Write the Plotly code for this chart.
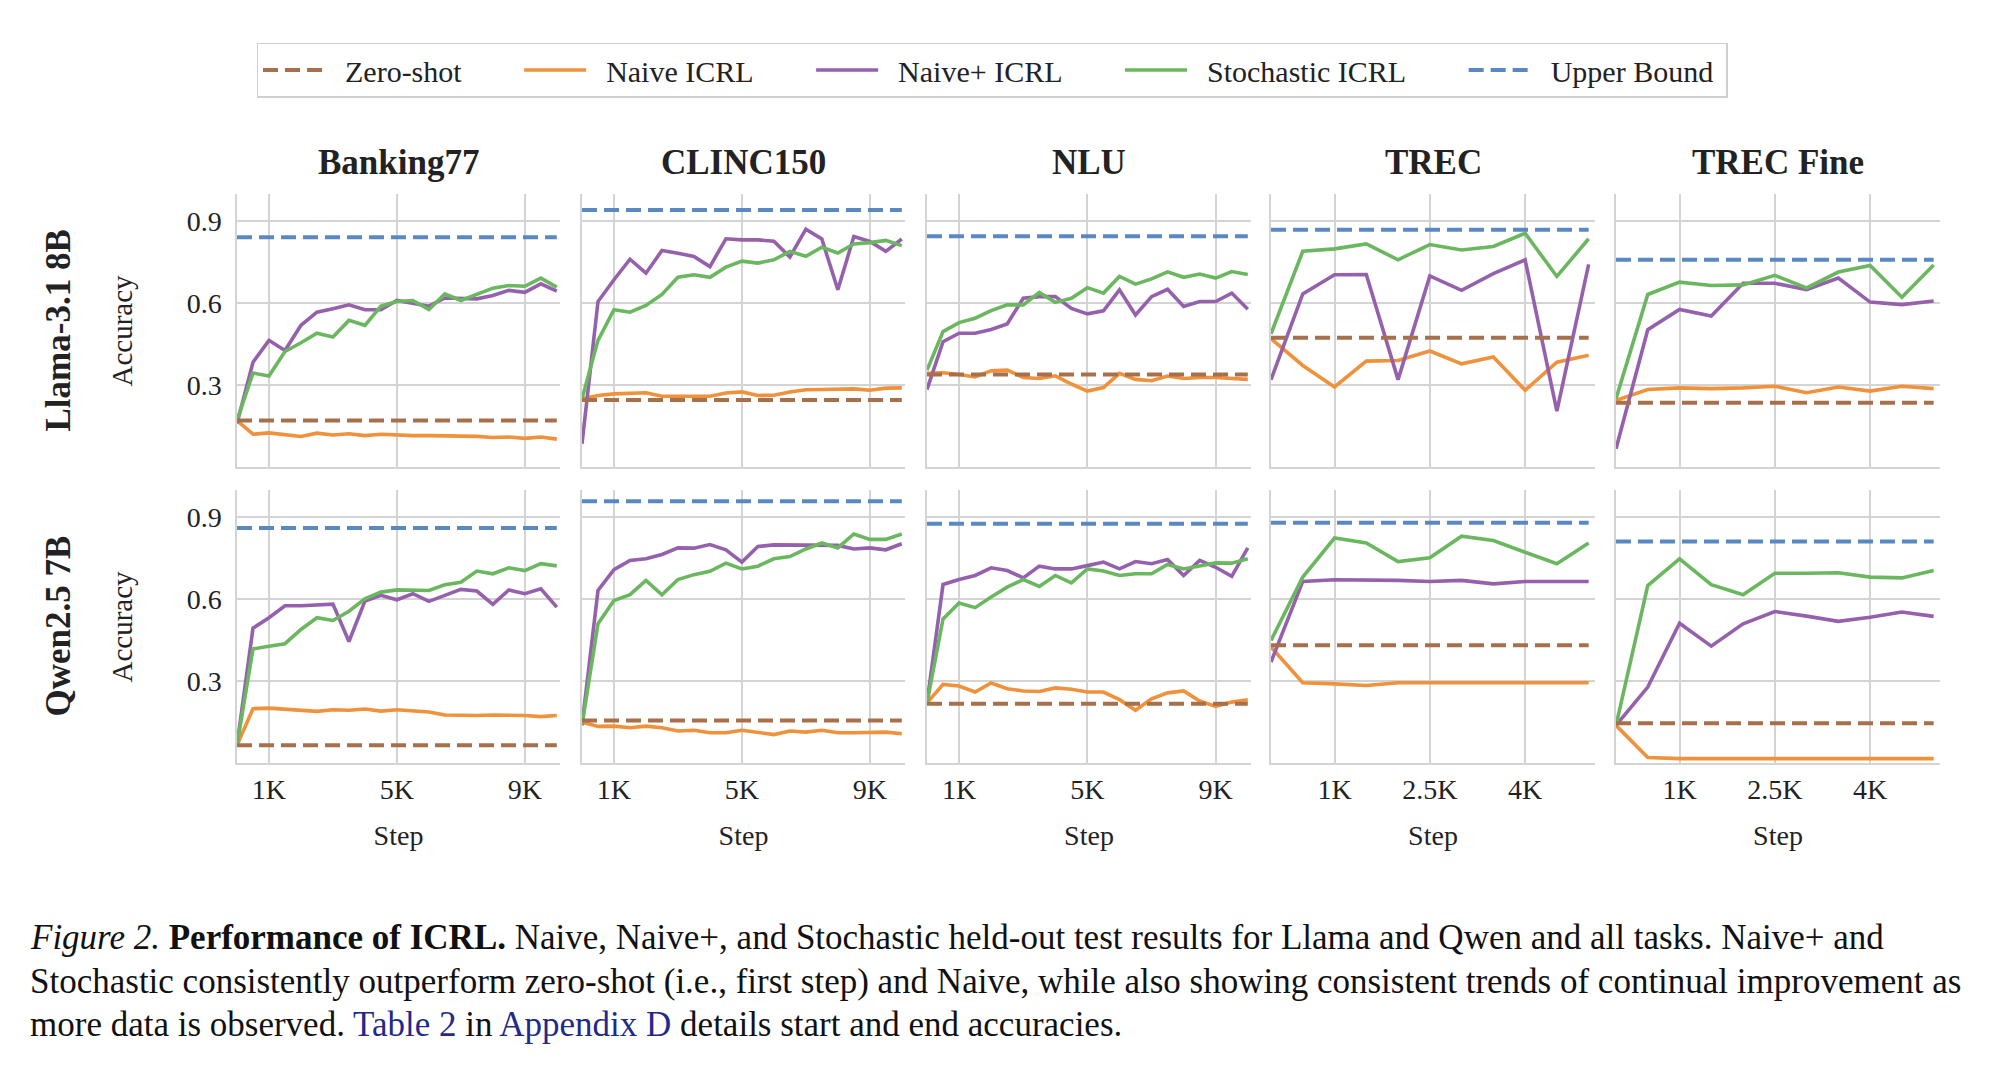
import plotly.graph_objects as go

# ---------------- data ----------------
datasets = ["Banking77", "CLINC150", "NLU", "TREC", "TREC Fine"]
models = ["Llama-3.1 8B", "Qwen2.5 7B"]
series_names = ["Zero-shot", "Naive ICRL", "Naive+ ICRL", "Stochastic ICRL", "Upper Bound"]

steps_long = [0, 500, 1000, 1500, 2000, 2500, 3000, 3500, 4000, 4500, 5000,
              5500, 6000, 6500, 7000, 7500, 8000, 8500, 9000, 9500, 10000]
steps_short = [0, 500, 1000, 1500, 2000, 2500, 3000, 3500, 4000, 4500, 5000]

ticks_long = [1000, 5000, 9000]
ticklabels_long = ["1K", "5K", "9K"]
ticks_short = [1000, 2500, 4000]
ticklabels_short = ["1K", "2.5K", "4K"]
yticks = [0.3, 0.6, 0.9]
yticklabels = ["0.3", "0.6", "0.9"]

# Llama-3.1 8B
llama_zero = [0.17, 0.245, 0.339, 0.473, 0.235]
llama_upper = [0.842, 0.941, 0.845, 0.869, 0.759]
llama_naive = [
    [0.17, 0.12, 0.125, 0.12, 0.112, 0.124, 0.117, 0.122, 0.115, 0.12, 0.117, 0.115, 0.115, 0.115, 0.114, 0.112, 0.108, 0.11, 0.105, 0.11, 0.102],
    [0.25, 0.262, 0.268, 0.271, 0.272, 0.259, 0.259, 0.256, 0.259, 0.271, 0.275, 0.262, 0.263, 0.275, 0.283, 0.284, 0.285, 0.286, 0.281, 0.289, 0.29],
    [0.343, 0.345, 0.339, 0.33, 0.352, 0.355, 0.328, 0.324, 0.334, 0.304, 0.278, 0.291, 0.343, 0.321, 0.316, 0.333, 0.324, 0.328, 0.328, 0.324, 0.321],
    [0.47, 0.372, 0.293, 0.388, 0.39, 0.425, 0.378, 0.403, 0.281, 0.384, 0.409],
    [0.244, 0.284, 0.29, 0.287, 0.29, 0.296, 0.272, 0.293, 0.278, 0.296, 0.287],
]
llama_naiveplus = [
    [0.16, 0.384, 0.464, 0.427, 0.519, 0.567, 0.58, 0.594, 0.576, 0.576, 0.61, 0.60, 0.589, 0.619, 0.619, 0.616, 0.628, 0.647, 0.64, 0.671, 0.644],
    [0.085, 0.606, 0.686, 0.761, 0.71, 0.793, 0.783, 0.771, 0.734, 0.836, 0.832, 0.832, 0.827, 0.769, 0.871, 0.835, 0.649, 0.844, 0.826, 0.79, 0.835],
    [0.284, 0.459, 0.49, 0.49, 0.504, 0.524, 0.618, 0.624, 0.624, 0.581, 0.561, 0.572, 0.649, 0.557, 0.624, 0.651, 0.588, 0.606, 0.606, 0.637, 0.578],
    [0.32, 0.634, 0.704, 0.705, 0.32, 0.70, 0.647, 0.708, 0.759, 0.205, 0.742],
    [0.067, 0.503, 0.577, 0.553, 0.673, 0.673, 0.65, 0.692, 0.604, 0.595, 0.608],
]
llama_stoch = [
    [0.171, 0.344, 0.333, 0.423, 0.455, 0.49, 0.476, 0.537, 0.519, 0.589, 0.606, 0.61, 0.577, 0.634, 0.61, 0.632, 0.655, 0.665, 0.662, 0.692, 0.659],
    [0.25, 0.464, 0.576, 0.567, 0.592, 0.632, 0.695, 0.704, 0.695, 0.732, 0.754, 0.747, 0.759, 0.79, 0.772, 0.805, 0.784, 0.817, 0.822, 0.83, 0.811],
    [0.355, 0.496, 0.529, 0.545, 0.573, 0.594, 0.594, 0.639, 0.603, 0.618, 0.657, 0.637, 0.698, 0.67, 0.689, 0.715, 0.695, 0.707, 0.692, 0.716, 0.705],
    [0.488, 0.79, 0.799, 0.817, 0.759, 0.815, 0.795, 0.808, 0.856, 0.698, 0.836],
    [0.25, 0.632, 0.677, 0.665, 0.667, 0.702, 0.656, 0.714, 0.738, 0.622, 0.74],
]

# Qwen2.5 7B
qwen_zero = [0.065, 0.156, 0.217, 0.431, 0.146]
qwen_upper = [0.861, 0.959, 0.876, 0.88, 0.811]
qwen_naive = [
    [0.065, 0.199, 0.201, 0.198, 0.195, 0.189, 0.195, 0.193, 0.198, 0.19, 0.195, 0.19, 0.187, 0.176, 0.174, 0.174, 0.176, 0.176, 0.174, 0.17, 0.174],
    [0.15, 0.134, 0.135, 0.129, 0.135, 0.129, 0.117, 0.12, 0.111, 0.111, 0.12, 0.113, 0.104, 0.117, 0.113, 0.12, 0.111, 0.111, 0.111, 0.113, 0.107],
    [0.22, 0.288, 0.282, 0.26, 0.293, 0.272, 0.264, 0.262, 0.275, 0.27, 0.26, 0.26, 0.232, 0.193, 0.235, 0.257, 0.264, 0.227, 0.207, 0.223, 0.232],
    [0.425, 0.294, 0.29, 0.284, 0.294, 0.294, 0.293, 0.294, 0.293, 0.293, 0.294],
    [0.138, 0.02, 0.016, 0.016, 0.016, 0.016, 0.016, 0.016, 0.016, 0.016, 0.016],
]
qwen_naiveplus = [
    [0.065, 0.494, 0.532, 0.576, 0.576, 0.58, 0.582, 0.445, 0.593, 0.614, 0.598, 0.62, 0.592, 0.614, 0.636, 0.63, 0.581, 0.634, 0.62, 0.638, 0.571],
    [0.138, 0.632, 0.708, 0.742, 0.748, 0.764, 0.788, 0.787, 0.8, 0.781, 0.736, 0.793, 0.799, 0.799, 0.799, 0.797, 0.797, 0.784, 0.788, 0.781, 0.803],
    [0.22, 0.654, 0.672, 0.687, 0.715, 0.705, 0.678, 0.721, 0.711, 0.711, 0.723, 0.736, 0.711, 0.738, 0.73, 0.745, 0.687, 0.742, 0.717, 0.684, 0.788],
    [0.37, 0.665, 0.671, 0.671, 0.669, 0.665, 0.669, 0.656, 0.665, 0.665, 0.665],
    [0.138, 0.278, 0.512, 0.428, 0.51, 0.555, 0.538, 0.519, 0.534, 0.553, 0.537],
]
qwen_stoch = [
    [0.065, 0.418, 0.428, 0.437, 0.489, 0.532, 0.522, 0.556, 0.601, 0.626, 0.634, 0.634, 0.632, 0.653, 0.662, 0.703, 0.693, 0.715, 0.705, 0.73, 0.722],
    [0.138, 0.51, 0.595, 0.617, 0.669, 0.616, 0.672, 0.69, 0.702, 0.732, 0.711, 0.721, 0.748, 0.756, 0.784, 0.806, 0.788, 0.839, 0.819, 0.819, 0.839],
    [0.22, 0.528, 0.586, 0.569, 0.608, 0.644, 0.672, 0.647, 0.687, 0.66, 0.711, 0.703, 0.687, 0.693, 0.693, 0.727, 0.711, 0.723, 0.733, 0.732, 0.748],
    [0.449, 0.681, 0.824, 0.806, 0.738, 0.752, 0.831, 0.815, 0.772, 0.73, 0.806],
    [0.138, 0.65, 0.748, 0.653, 0.616, 0.695, 0.695, 0.697, 0.681, 0.678, 0.705],
]

caption_lines = [
    "<i>Figure 2.</i> <b>Performance of ICRL.</b> Naive, Naive+, and Stochastic held-out test results for Llama and Qwen and all tasks. Naive+ and",
    "Stochastic consistently outperform zero-shot (i.e., first step) and Naive, while also showing consistent trends of continual improvement as",
    "more data is observed. <span style='color:#1f2a8a'>Table 2</span> in <span style='color:#1f2a8a'>Appendix D</span> details start and end accuracies.",
]

# ---------------- style ----------------
W, H = 2000, 1079
FONT = "Liberation Serif, Times New Roman, serif"
C_ZERO = "#a86f4b"
C_NAIVE = "#f0913b"
C_PLUS = "#9561ad"
C_STOCH = "#6bb760"
C_UPPER = "#5a88c2"
GRID = "#d4d4d4"
PRE = "\u00a0" * 2    # gap between legend line sample and label
POST = "\u00a0" * 7   # spacing between legend columns


def leg_name(i, last=False):
    return PRE + series_names[i] + ("\u00a0" if last else POST)


col_px = [(237, 560), (582, 905), (927, 1251), (1271, 1595), (1616, 1940)]
row_px = [(194, 467), (490, 763)]

fig = go.Figure()

rows_data = [
    (llama_zero, llama_upper, llama_naive, llama_naiveplus, llama_stoch),
    (qwen_zero, qwen_upper, qwen_naive, qwen_naiveplus, qwen_stoch),
]

for r in range(2):
    zero, upper, naive, plus, stoch = rows_data[r]
    for c in range(5):
        idx = r * 5 + c + 1
        xa = "x" if idx == 1 else f"x{idx}"
        ya = "y" if idx == 1 else f"y{idx}"
        steps = steps_long if c < 3 else steps_short
        first = (idx == 1)
        xr = [steps[0], steps[-1]]
        fig.add_trace(go.Scatter(x=steps, y=naive[c], mode="lines", name=leg_name(1),
                                 line=dict(color=C_NAIVE, width=3.6), xaxis=xa, yaxis=ya,
                                 showlegend=first, legendrank=2))
        fig.add_trace(go.Scatter(x=steps, y=plus[c], mode="lines", name=leg_name(2),
                                 line=dict(color=C_PLUS, width=3.6), xaxis=xa, yaxis=ya,
                                 showlegend=first, legendrank=3))
        fig.add_trace(go.Scatter(x=steps, y=stoch[c], mode="lines", name=leg_name(3),
                                 line=dict(color=C_STOCH, width=3.6), xaxis=xa, yaxis=ya,
                                 showlegend=first, legendrank=4))
        fig.add_trace(go.Scatter(x=xr, y=[zero[c], zero[c]], mode="lines", name=leg_name(0),
                                 line=dict(color=C_ZERO, width=4, dash="15px,7px"), xaxis=xa, yaxis=ya,
                                 showlegend=first, legendrank=1))
        fig.add_trace(go.Scatter(x=xr, y=[upper[c], upper[c]], mode="lines", name=leg_name(4, last=True),
                                 line=dict(color=C_UPPER, width=4, dash="15px,7px"), xaxis=xa, yaxis=ya,
                                 showlegend=first, legendrank=5))

        x0, x1 = col_px[c]
        y0, y1 = row_px[r]
        xmax = steps[-1] * 1.01 if c < 3 else steps[-1] * 1.02
        xaxis = dict(domain=[x0 / W, x1 / W], range=[0, xmax],
                     tickvals=ticks_long if c < 3 else ticks_short,
                     ticktext=ticklabels_long if c < 3 else ticklabels_short,
                     showticklabels=(r == 1), showgrid=True, gridcolor=GRID, gridwidth=1.5,
                     showline=True, linecolor=GRID, linewidth=1.5, zeroline=False,
                     ticks="outside", ticklen=1, tickcolor="rgba(0,0,0,0)",
                     tickfont=dict(family=FONT, size=28, color="#222222"),
                     anchor=ya, fixedrange=True)
        if r == 1:
            xaxis["title"] = dict(text="Step", font=dict(family=FONT, size=28, color="#222222"), standoff=21)
        yaxis = dict(domain=[1 - y1 / H, 1 - y0 / H], range=[0, 1.0],
                     tickvals=yticks, ticktext=yticklabels,
                     showticklabels=(c == 0), showgrid=True, gridcolor=GRID, gridwidth=1.5,
                     showline=True, linecolor=GRID, linewidth=1.5, zeroline=False,
                     ticks="outside", ticklen=8, tickcolor="rgba(0,0,0,0)",
                     tickfont=dict(family=FONT, size=28, color="#222222"),
                     anchor=xa, fixedrange=True)
        fig.layout["xaxis" if idx == 1 else f"xaxis{idx}"] = xaxis
        fig.layout["yaxis" if idx == 1 else f"yaxis{idx}"] = yaxis

annotations = []
for c, name in enumerate(datasets):
    x0, x1 = col_px[c]
    annotations.append(dict(text=f"<b>{name}</b>", x=(x0 + x1) / 2 / W, y=1 - 162 / H,
                            xref="paper", yref="paper", showarrow=False,
                            font=dict(family=FONT, size=35, color="#222222"),
                            xanchor="center", yanchor="middle"))
for r, m in enumerate(models):
    y0, y1 = row_px[r]
    yc = 1 - (y0 + y1) / 2 / H
    annotations.append(dict(text=f"<b>{m}</b>", x=58 / W, y=yc, xref="paper", yref="paper",
                            showarrow=False, textangle=-90,
                            font=dict(family=FONT, size=35, color="#222222"),
                            xanchor="center", yanchor="middle"))
    annotations.append(dict(text="Accuracy", x=121 / W, y=yc, xref="paper", yref="paper",
                            showarrow=False, textangle=-90,
                            font=dict(family=FONT, size=29, color="#222222"),
                            xanchor="center", yanchor="middle"))

caption_y = [937, 981, 1024]
for line, yy in zip(caption_lines, caption_y):
    annotations.append(dict(text=line, x=28 / W, y=1 - yy / H, xref="paper", yref="paper",
                            showarrow=False, xanchor="left", yanchor="middle",
                            font=dict(family=FONT, size=35, color="#111111")))

fig.update_layout(
    width=W, height=H, margin=dict(l=0, r=0, t=0, b=0),
    paper_bgcolor="white", plot_bgcolor="white",
    font=dict(family=FONT, color="#222222"),
    annotations=annotations,
    legend=dict(orientation="h", x=992 / W, xanchor="center", y=1 - 70 / H, yanchor="middle",
                bordercolor="#cfcfcf", borderwidth=1.5, bgcolor="white",
                font=dict(family=FONT, size=30, color="#222222"),
                itemwidth=62, traceorder="normal"),
)

fig.write_html("out.html", config={"displayModeBar": False},
               post_script="document.body.style.margin='0';")
